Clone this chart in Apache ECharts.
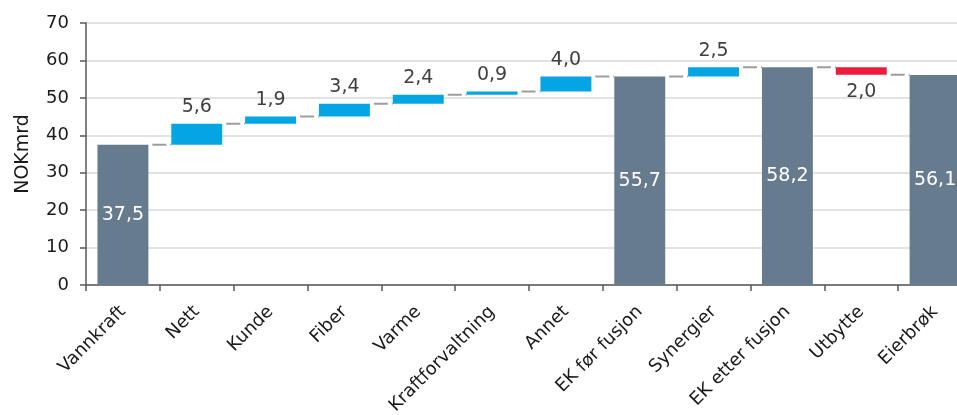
<!DOCTYPE html>
<html><head><meta charset="utf-8">
<script src="https://cdn.jsdelivr.net/npm/echarts@6/dist/echarts.min.js"></script>
<style>html,body{margin:0;padding:0;background:#fff;overflow:hidden}#c{width:957px;height:415px}</style>
</head><body><div id="c"></div>
<script>
const categories = ['Vannkraft','Nett','Kunde','Fiber','Varme','Kraftforvaltning','Annet','EK før fusjon','Synergier','EK etter fusjon','Utbytte','Eierbrøk'];
const values = [37.5, 5.6, 1.9, 3.4, 2.4, 0.9, 4.0, 55.7, 2.5, 58.2, -2.0, 56.1];
const isTotal = [true,false,false,false,false,false,false,true,false,true,false,true];
const yTicks = [0,10,20,30,40,50,60,70];

const GRAY='#677b8f', BLUE='#03a6e2', RED='#ed1c3c';
const base=[], size=[], level=[];
let cur=0;
values.forEach((v,i)=>{
  if(isTotal[i]){ base.push(0); size.push(v); cur=v; }
  else if(v>=0){ base.push(cur); size.push(v); cur+=v; }
  else { base.push(cur+v); size.push(-v); cur+=v; }
  level.push(cur);
});
const fmt = v => Math.abs(v).toFixed(1).replace('.',',');
const FONT='DejaVu Sans';

const chart = echarts.init(document.getElementById('c'));
chart.setOption({
  animation:false,
  grid:{left:86,right:-15,top:23,bottom:130,outerBoundsMode:'none',containLabel:false},
  xAxis:{type:'category',data:categories,
    axisLine:{lineStyle:{color:'#595959',width:1.5}},
    axisTick:{show:true,length:6,lineStyle:{color:'#595959',width:1.5}},
    axisLabel:{rotate:45,interval:0,margin:24,color:'#1a1a1a',fontFamily:FONT,fontSize:18}},
  yAxis:{type:'value',min:0,max:70,interval:10,
    name:'NOKmrd',nameLocation:'middle',nameGap:53,nameRotate:90,
    nameTextStyle:{color:'#1a1a1a',fontFamily:FONT,fontSize:19},
    axisLine:{show:true,lineStyle:{color:'#595959',width:1.5}},
    axisTick:{show:true,length:6,lineStyle:{color:'#595959',width:1.5}},
    axisLabel:{margin:17,color:'#1a1a1a',fontFamily:FONT,fontSize:18,
      formatter:v=>yTicks.includes(v)?String(v):''},
    splitLine:{lineStyle:{color:'#d9d9d9',width:1.5}}},
  series:[
    {type:'custom',z:1,silent:true,
      data:level.map((l,i)=>[i,l]).slice(0,level.length-1),
      renderItem:(params,api)=>{
        const i=api.value(0), l=api.value(1);
        const p1=api.coord([i,l]), p2=api.coord([i+1,l]);
        const bw=api.size([1,0])[0]*0.69/2;
        return {type:'line',shape:{x1:p1[0]+bw,y1:p1[1],x2:p2[0]-bw,y2:p2[1]},
          style:{stroke:'#9d9d9d',lineWidth:2,lineDash:[14,4],lineDashOffset:14}};
      }},
    {type:'bar',stack:'w',data:base,barWidth:'69%',itemStyle:{color:'transparent'},silent:true,z:2},
    {type:'bar',stack:'w',barWidth:'69%',z:3,
      data:size.map((s,i)=>({value:s,
        itemStyle:{color:isTotal[i]?GRAY:(values[i]<0?RED:BLUE)},
        label:{show:true,
          position:isTotal[i]?'inside':(values[i]<0?'bottom':'top'),
          distance:isTotal[i]?0:(values[i]<0?8:7),
          color:isTotal[i]?'#ffffff':'#404040',
          fontFamily:FONT,fontSize:19,
          formatter:()=>fmt(values[i])}}))}
  ]
});
</script></body></html>
